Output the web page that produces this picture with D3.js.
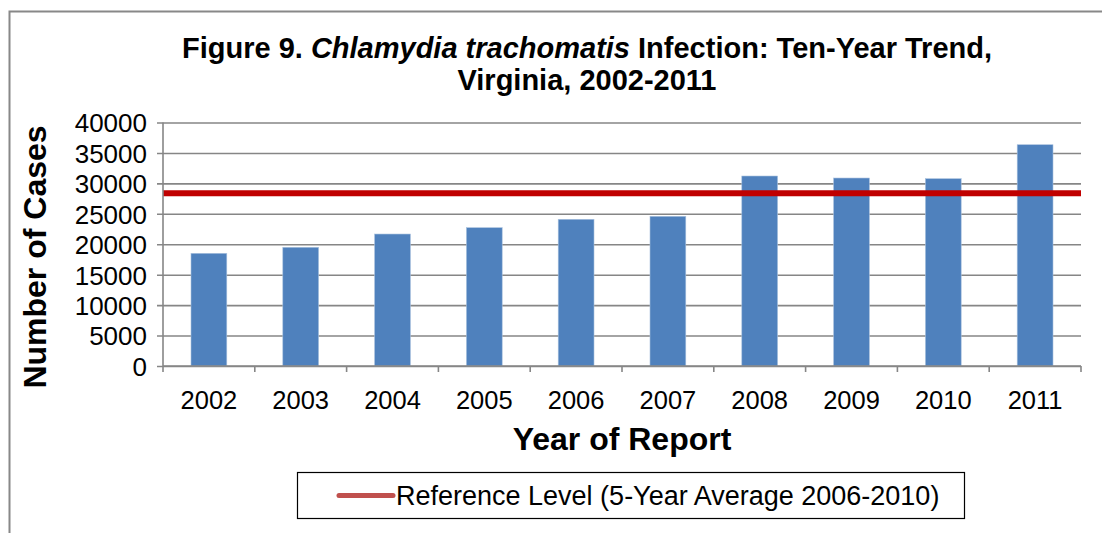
<!DOCTYPE html>
<html>
<head>
<meta charset="utf-8">
<script src="https://cdn.jsdelivr.net/npm/d3@7"></script>
<style>
  body { margin: 0; background: #fff; }
  svg { font-family: "Liberation Sans", Arial, sans-serif; }
</style>
</head>
<body>
<div id="chart"></div>
<script>
// data
const years = ["2002", "2003", "2004", "2005", "2006", "2007", "2008", "2009", "2010", "2011"];
const cases = [18510, 19500, 21680, 22720, 24100, 24590, 31210, 30880, 30770, 36350];
const referenceLevel = 28370;
const yTicks = [0, 5000, 10000, 15000, 20000, 25000, 30000, 35000, 40000];

const W = 1102, H = 533;
const margin = {top: 122.5, right: 21, bottom: 167, left: 163};
const width = W - margin.left - margin.right,
      height = H - margin.top - margin.bottom;

const svg = d3.select("#chart")
  .append("svg")
  .attr("width", W)
  .attr("height", H);

// outer frame (right and bottom edges run off the picture)
svg.append("rect")
  .attr("x", 9.5).attr("y", 11.5)
  .attr("width", W).attr("height", H)
  .attr("fill", "none")
  .attr("stroke", "#888")
  .attr("stroke-width", 2);

// title
const title = svg.append("text")
  .attr("text-anchor", "middle")
  .attr("font-weight", "bold")
  .attr("font-size", 29)
  .attr("fill", "#000");
const l1 = title.append("tspan").attr("x", 587).attr("y", 58);
l1.append("tspan").text("Figure 9. ");
l1.append("tspan").attr("font-style", "italic").text("Chlamydia trachomatis");
l1.append("tspan").text(" Infection: Ten-Year Trend,");
title.append("tspan").attr("x", 587).attr("y", 90).text("Virginia, 2002-2011");

const g = svg.append("g")
  .attr("transform", `translate(${margin.left}, ${margin.top})`);

const x = d3.scaleBand()
  .domain(years)
  .range([0, width])
  .paddingInner(0.61)
  .paddingOuter(0.305);

const y = d3.scaleLinear()
  .domain([0, 40000])
  .range([height, 0]);

// gridlines + y axis
const yAxis = g.append("g")
  .call(d3.axisLeft(y).tickValues(yTicks).tickFormat(d3.format("d")).tickSizeOuter(0))
  .call(s => s.select(".domain").remove());
yAxis.selectAll(".tick line")
  .attr("x1", -6)
  .attr("x2", width)
  .attr("stroke", "#868686")
  .attr("stroke-width", 1.6);
yAxis.selectAll(".tick text")
  .attr("x", -16)
  .attr("dy", "0.36em")
  .attr("font-size", 26)
  .attr("font-family", "Liberation Sans, Arial, sans-serif")
  .attr("fill", "#000");

// bars
g.selectAll(".bar")
  .data(cases)
  .join("rect")
  .attr("class", "bar")
  .attr("x", (d, i) => x(years[i]))
  .attr("width", x.bandwidth())
  .attr("y", d => y(d))
  .attr("height", d => height - y(d))
  .attr("fill", "#4F81BD")
  .attr("stroke", "#a9c1de")
  .attr("stroke-width", 0.6);

// reference level line
g.append("line")
  .attr("x1", 0).attr("x2", width)
  .attr("y1", y(referenceLevel)).attr("y2", y(referenceLevel))
  .attr("stroke", "#C00000")
  .attr("stroke-width", 6);

// axis lines, x tick marks at category boundaries
g.append("line")
  .attr("x1", 0).attr("x2", 0)
  .attr("y1", 0).attr("y2", height)
  .attr("stroke", "#868686").attr("stroke-width", 1.6);
const xAxis = g.append("g").attr("transform", `translate(0, ${height})`);
xAxis.append("line")
  .attr("x1", 0).attr("x2", width)
  .attr("stroke", "#868686").attr("stroke-width", 1.6);
const step = x.step();
xAxis.selectAll(".xt")
  .data(d3.range(years.length + 1))
  .join("line")
  .attr("x1", i => i * step).attr("x2", i => i * step)
  .attr("y1", 0).attr("y2", 6)
  .attr("stroke", "#868686").attr("stroke-width", 1.6);
xAxis.selectAll(".xl")
  .data(years)
  .join("text")
  .attr("x", d => x(d) + x.bandwidth() / 2)
  .attr("y", 43)
  .attr("text-anchor", "middle")
  .attr("font-size", 25.5)
  .attr("fill", "#000")
  .text(d => d);

// axis titles
svg.append("text")
  .attr("x", 622).attr("y", 450)
  .attr("text-anchor", "middle")
  .attr("font-weight", "bold")
  .attr("font-size", 32)
  .text("Year of Report");

svg.append("text")
  .attr("transform", "translate(46, 257) rotate(-90)")
  .attr("text-anchor", "middle")
  .attr("font-weight", "bold")
  .attr("font-size", 32)
  .text("Number of Cases");

// legend
const legend = svg.append("g");
legend.append("rect")
  .attr("x", 297.5).attr("y", 472.5)
  .attr("width", 667).attr("height", 46)
  .attr("fill", "#fff")
  .attr("stroke", "#000")
  .attr("stroke-width", 1.2);
legend.append("line")
  .attr("x1", 339).attr("x2", 393)
  .attr("y1", 495.5).attr("y2", 495.5)
  .attr("stroke", "#C0504D")
  .attr("stroke-width", 5)
  .attr("stroke-linecap", "round");
legend.append("text")
  .attr("x", 396).attr("y", 505)
  .attr("font-size", 27)
  .text("Reference Level (5-Year Average 2006-2010)");
</script>
</body>
</html>
